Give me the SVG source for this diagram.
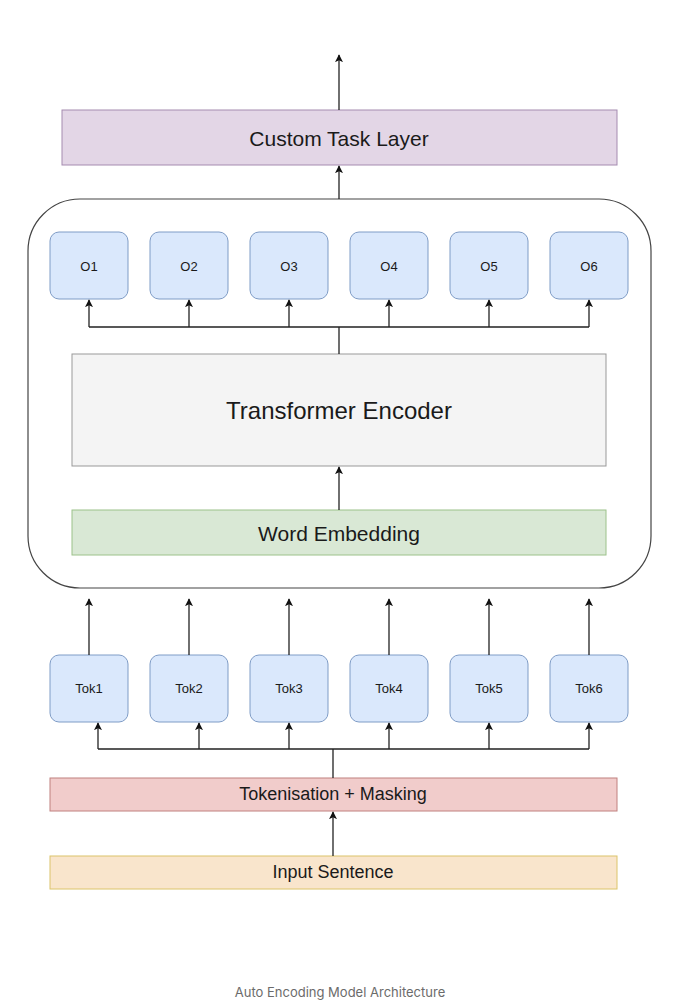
<svg xmlns="http://www.w3.org/2000/svg" width="680" height="1001" viewBox="0 0 680 1001">
<style>
text{font-family:"Liberation Sans",Arial,sans-serif;fill:#1a1a1a;text-anchor:middle;dominant-baseline:central}
.ob{fill:#dae8fc;stroke:#7f9cc6;stroke-width:1}
.ln{fill:none;stroke:#222;stroke-width:1.3}
.sm{font-size:13px}
</style>
<defs>
<marker id="ah" viewBox="0 0 10 10" refX="9" refY="5" markerWidth="8" markerHeight="9" orient="auto" markerUnits="userSpaceOnUse">
<path d="M0,0 L10,5 L0,10 L2.5,5 Z" fill="#111"/>
</marker>
</defs>
<rect width="680" height="1001" fill="#fff"/>
<g id="encoder-block"><rect x="28" y="199" width="623" height="389" rx="52" ry="52" fill="#fff" stroke="#444" stroke-width="1.2"/></g>
<g id="custom-task-layer"><rect x="62" y="110" width="555" height="55" fill="#e3d6e6" stroke="#a58bb0"/><text x="339" y="138" font-size="21">Custom Task Layer</text></g>
<g id="o1"><rect class="ob" x="50" y="232" width="78" height="67" rx="9"/><text class="sm" x="89" y="266">O1</text></g>
<g id="o2"><rect class="ob" x="150" y="232" width="78" height="67" rx="9"/><text class="sm" x="189" y="266">O2</text></g>
<g id="o3"><rect class="ob" x="250" y="232" width="78" height="67" rx="9"/><text class="sm" x="289" y="266">O3</text></g>
<g id="o4"><rect class="ob" x="350" y="232" width="78" height="67" rx="9"/><text class="sm" x="389" y="266">O4</text></g>
<g id="o5"><rect class="ob" x="450" y="232" width="78" height="67" rx="9"/><text class="sm" x="489" y="266">O5</text></g>
<g id="o6"><rect class="ob" x="550" y="232" width="78" height="67" rx="9"/><text class="sm" x="589" y="266">O6</text></g>
<g id="transformer-encoder"><rect x="72" y="354" width="534" height="112" fill="#f4f4f4" stroke="#999"/><text x="339" y="410" font-size="24" fill="#333">Transformer Encoder</text></g>
<g id="word-embedding"><rect x="72" y="510" width="534" height="45" fill="#d9e8d5" stroke="#9cc28a"/><text x="339" y="533" font-size="21">Word Embedding</text></g>
<g id="tok1"><rect class="ob" x="50" y="655" width="78" height="67" rx="9"/><text class="sm" x="89" y="688">Tok1</text></g>
<g id="tok2"><rect class="ob" x="150" y="655" width="78" height="67" rx="9"/><text class="sm" x="189" y="688">Tok2</text></g>
<g id="tok3"><rect class="ob" x="250" y="655" width="78" height="67" rx="9"/><text class="sm" x="289" y="688">Tok3</text></g>
<g id="tok4"><rect class="ob" x="350" y="655" width="78" height="67" rx="9"/><text class="sm" x="389" y="688">Tok4</text></g>
<g id="tok5"><rect class="ob" x="450" y="655" width="78" height="67" rx="9"/><text class="sm" x="489" y="688">Tok5</text></g>
<g id="tok6"><rect class="ob" x="550" y="655" width="78" height="67" rx="9"/><text class="sm" x="589" y="688">Tok6</text></g>
<g id="tokenisation"><rect x="50" y="778" width="567" height="33" fill="#f1cccb" stroke="#c0807f"/><text x="333" y="794" font-size="18">Tokenisation + Masking</text></g>
<g id="input-sentence"><rect x="50" y="856" width="567" height="33" fill="#f9e5cc" stroke="#dcc46a"/><text x="333" y="872" font-size="18">Input Sentence</text></g>
<g id="connectors">
<line class="ln" x1="339" y1="110" x2="339" y2="55" marker-end="url(#ah)"/>
<line class="ln" x1="339" y1="199" x2="339" y2="166" marker-end="url(#ah)"/>
<path class="ln" d="M339,354 V327 M89,327 H589"/>
<line class="ln" x1="89" y1="327" x2="89" y2="300" marker-end="url(#ah)"/>
<line class="ln" x1="189" y1="327" x2="189" y2="300" marker-end="url(#ah)"/>
<line class="ln" x1="289" y1="327" x2="289" y2="300" marker-end="url(#ah)"/>
<line class="ln" x1="389" y1="327" x2="389" y2="300" marker-end="url(#ah)"/>
<line class="ln" x1="489" y1="327" x2="489" y2="300" marker-end="url(#ah)"/>
<line class="ln" x1="589" y1="327" x2="589" y2="300" marker-end="url(#ah)"/>
<line class="ln" x1="339" y1="510" x2="339" y2="467" marker-end="url(#ah)"/>
<line class="ln" x1="89" y1="655" x2="89" y2="599" marker-end="url(#ah)"/>
<line class="ln" x1="189" y1="655" x2="189" y2="599" marker-end="url(#ah)"/>
<line class="ln" x1="289" y1="655" x2="289" y2="599" marker-end="url(#ah)"/>
<line class="ln" x1="389" y1="655" x2="389" y2="599" marker-end="url(#ah)"/>
<line class="ln" x1="489" y1="655" x2="489" y2="599" marker-end="url(#ah)"/>
<line class="ln" x1="589" y1="655" x2="589" y2="599" marker-end="url(#ah)"/>
<path class="ln" d="M333,778 V749 M98,749 H589"/>
<line class="ln" x1="98" y1="749" x2="98" y2="723" marker-end="url(#ah)"/>
<line class="ln" x1="199" y1="749" x2="199" y2="723" marker-end="url(#ah)"/>
<line class="ln" x1="289" y1="749" x2="289" y2="723" marker-end="url(#ah)"/>
<line class="ln" x1="389" y1="749" x2="389" y2="723" marker-end="url(#ah)"/>
<line class="ln" x1="489" y1="749" x2="489" y2="723" marker-end="url(#ah)"/>
<line class="ln" x1="589" y1="749" x2="589" y2="723" marker-end="url(#ah)"/>
<line class="ln" x1="333" y1="856" x2="333" y2="812" marker-end="url(#ah)"/>
</g>
<text x="340" y="992" font-size="13" style="font-family:Inter,'Liberation Sans',sans-serif;fill:#6b6b6b">Auto Encoding Model Architecture</text>
</svg>
